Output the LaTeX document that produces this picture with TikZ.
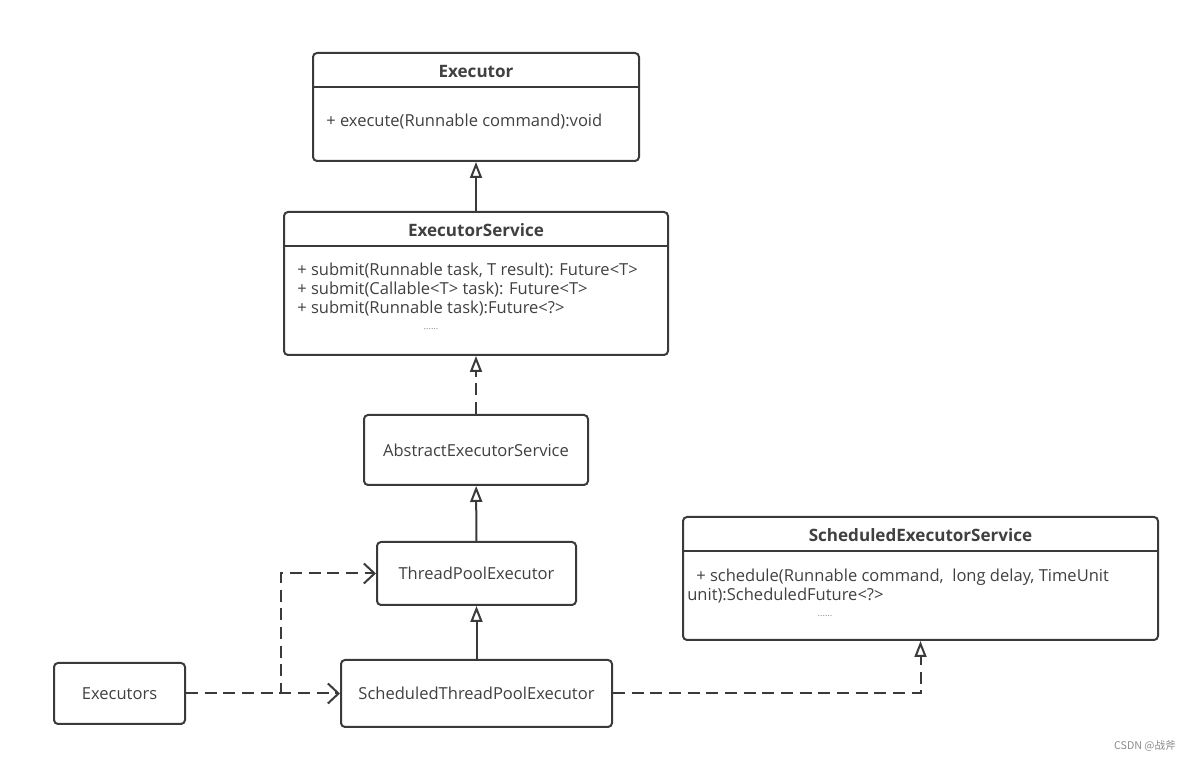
\documentclass[tikz,border=0pt]{standalone}
\usepackage{fontspec}
\setmainfont{Open Sans}
\newfontfamily\cjkfont{Noto Sans CJK SC}
\usetikzlibrary{arrows.meta, positioning, calc}
\definecolor{LineGray}{RGB}{58,58,58}
\definecolor{TextGray}{RGB}{64,64,64}
\definecolor{DotGray}{RGB}{140,140,140}
\newcommand{\umlfont}{\fontsize{12.4}{15}\selectfont}
\newcommand{\headfont}{\fontsize{12.8}{15}\selectfont\bfseries}

\begin{document}
\begin{tikzpicture}[x=0.75pt,y=0.75pt,
    cls/.style 2 args={draw=LineGray,line width=1.5pt,rounded corners=3pt,
                minimum width=#1*0.75pt,minimum height=#2*0.75pt,
                inner sep=0pt,font=\umlfont,text=TextGray},
    title/.style={font=\headfont,text=TextGray,inner sep=0pt},
    meth/.style={font=\umlfont,text=TextGray,anchor=west,inner sep=0pt},
    dots/.style={font=\scriptsize,text=DotGray,inner sep=0pt},
    sep/.style={draw=LineGray,line width=1.5pt},
    inherit/.style={-{Triangle[open,length=12pt,width=9pt]},LineGray,line width=1.5pt},
    realize/.style={inherit,dash pattern=on 9pt off 5pt},
    depend/.style={-{Straight Barb[length=8pt,width=15pt]},LineGray,line width=1.5pt,
                   dash pattern=on 9pt off 5pt}
  ]
    \useasboundingbox (0,0) rectangle (1192,762);

    % Executor interface
    \node[cls={326}{108}] (exec) at (476,655) {};
    \node[title] (exec_t) at ($(exec.north)+(0,-19.5)$) {Executor};
    \draw[sep] ($(exec.north west)+(0,-35)$) -- ($(exec.north east)+(0,-35)$);
    \node[meth] (exec_m1) at ($(exec.north west)+(14,-70)$)
      {+ execute(Runnable command):void};

    % ExecutorService interface
    \node[cls={384}{143}] (es) at (476,478.5) {};
    \node[title] (es_t) at ($(es.north)+(0,-19.5)$) {ExecutorService};
    \draw[sep] ($(es.north west)+(0,-35)$) -- ($(es.north east)+(0,-35)$);
    \node[meth] (es_m1) at ($(es.north west)+(14,-60)$)
      {+ submit(Runnable task, T result): Future<T>};
    \node[meth] (es_m2) at ($(es.north west)+(14,-79)$)
      {+ submit(Callable<T> task): Future<T>};
    \node[meth] (es_m3) at ($(es.north west)+(14,-98)$)
      {+ submit(Runnable task):Future<?>};
    \node[dots] (es_d) at ($(es.north west)+(148,-118)$) {......};

    % implementation chain
    \node[cls={224}{70}] (aes)  at (476,312)    {AbstractExecutorService};
    \node[cls={199}{63}] (tpe)  at (476.5,188.5) {ThreadPoolExecutor};
    \node[cls={271}{67}] (stpe) at (476.5,68.5)  {ScheduledThreadPoolExecutor};
    \node[cls={131}{61}] (execs) at (119.5,68.5) {Executors};

    % ScheduledExecutorService interface
    \node[cls={475}{123}] (ses) at (920.5,183.5) {};
    \node[title] (ses_t) at ($(ses.north)+(0,-19.5)$) {ScheduledExecutorService};
    \draw[sep] ($(ses.north west)+(0,-35)$) -- ($(ses.north east)+(0,-35)$);
    \node[meth] (ses_m1) at ($(ses.north west)+(14,-61)$)
      {+ schedule(Runnable command,\ \ long delay, TimeUnit};
    \node[meth] (ses_m2) at ($(ses.north west)+(5,-80)$)
      {unit):ScheduledFuture<?>};
    \node[dots] (ses_d) at ($(ses.north west)+(143,-100)$) {......};

    % connectors
    \draw[inherit] (es) -- (exec);
    \draw[realize] (aes) -- (es);
    \draw[inherit] (tpe) -- (aes);
    \draw[inherit] (stpe) -- (tpe);
    \draw[realize] (stpe) -| (ses);
    \coordinate (bend) at (281,188.5);
    \draw[depend] (execs) -| (bend) -- (tpe);
    \draw[depend] (execs) -- (stpe);

    \node[font=\cjkfont\fontsize{8}{10}\selectfont,text=DotGray] (mark)
      at (1145,16) {CSDN @战斧};
  \end{tikzpicture}
\end{document}
